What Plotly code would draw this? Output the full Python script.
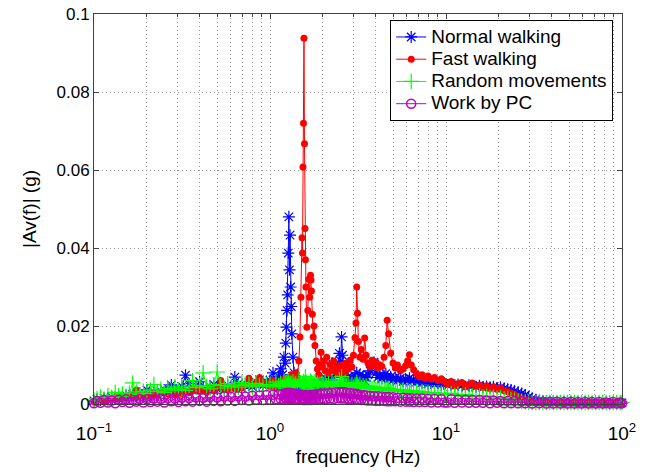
import plotly.graph_objects as go

# ---------------------------------------------------------------------------
# Frequency bins (Hz), split into four bands
# ---------------------------------------------------------------------------
freq_low = [0.100, 0.104, 0.109, 0.114, 0.120, 0.126, 0.132, 0.138, 0.145, 0.152,
            0.159, 0.166, 0.174, 0.182, 0.191, 0.200, 0.209, 0.219, 0.229, 0.240,
            0.251, 0.263, 0.275, 0.288, 0.302, 0.316, 0.331, 0.347, 0.363, 0.380,
            0.398, 0.417, 0.437, 0.457, 0.479, 0.501, 0.525, 0.550, 0.575, 0.603,
            0.631, 0.661, 0.692, 0.724, 0.759, 0.794, 0.832, 0.871, 0.912, 0.955]
freq_step = [1.00, 1.04, 1.08, 1.12, 1.15, 1.18, 1.20, 1.22, 1.23, 1.24,
             1.25, 1.26, 1.27, 1.28, 1.29, 1.30, 1.31, 1.32, 1.33, 1.35,
             1.37, 1.40, 1.43, 1.46, 1.48, 1.50, 1.52, 1.53, 1.54, 1.55,
             1.56, 1.57, 1.58, 1.59, 1.60, 1.62, 1.64, 1.66, 1.68, 1.70,
             1.71, 1.72, 1.74, 1.76, 1.78, 1.80, 1.83, 1.86, 1.89, 1.92,
             1.95, 1.98]
freq_harm = [2.02, 2.06, 2.10, 2.15, 2.20, 2.25, 2.30, 2.36, 2.42, 2.48,
             2.52, 2.55, 2.58, 2.62, 2.67, 2.72, 2.78, 2.85, 2.92, 2.98,
             3.04, 3.08, 3.11, 3.14, 3.18, 3.24, 3.30, 3.38, 3.45, 3.52,
             3.60, 3.70, 3.80, 3.90, 4.00, 4.10, 4.20, 4.32, 4.45, 4.55,
             4.63, 4.72, 4.85, 5.00, 5.15, 5.30, 5.50, 5.70, 5.90, 6.05,
             6.20, 6.35, 6.55, 6.80, 7.05, 7.30, 7.60, 7.90, 8.25, 8.60,
             9.00, 9.40, 9.80]
freq_high = [10.2, 10.7, 11.2, 11.7, 12.3, 12.9, 13.5, 14.1, 14.8, 15.5,
             16.2, 17.0, 17.8, 18.6, 19.5, 20.4, 21.4, 22.4, 23.4, 24.5,
             25.7, 26.9, 28.2, 29.5, 30.9, 32.4, 33.9, 35.5, 37.2, 38.9,
             40.7, 42.7, 44.7, 46.8, 49.0, 51.3, 53.7, 56.2, 58.9, 61.7,
             64.6, 67.6, 70.8, 74.1, 77.6, 81.3, 85.1, 89.1, 93.3, 97.7,
             100.0]

# ---------------------------------------------------------------------------
# |Av(f)| in g for each activity, same four bands
# ---------------------------------------------------------------------------
normal_low = [0.0008, 0.0012, 0.0010, 0.0015, 0.0011, 0.0018, 0.0013, 0.0020, 0.0016, 0.0022,
              0.0017, 0.0025, 0.0019, 0.0028, 0.0021, 0.0036, 0.0024, 0.0030, 0.0022, 0.0033,
              0.0027, 0.0040, 0.0049, 0.0031, 0.0038, 0.0045, 0.0074, 0.0052, 0.0036, 0.0044,
              0.0057, 0.0041, 0.0035, 0.0043, 0.0050, 0.0038, 0.0045, 0.0036, 0.0048, 0.0042,
              0.0069, 0.0052, 0.0040, 0.0047, 0.0055, 0.0044, 0.0050, 0.0062, 0.0048, 0.0058]
normal_step = [0.0060, 0.0080, 0.0055, 0.0070, 0.0090, 0.0075, 0.0120, 0.0105, 0.0156, 0.0197,
               0.0240, 0.0280, 0.0387, 0.0480, 0.0344, 0.0433, 0.0300, 0.0250, 0.0180, 0.0120,
               0.0080, 0.0060, 0.0045, 0.0052, 0.0038, 0.0044, 0.0035, 0.0040, 0.0032, 0.0038,
               0.0030, 0.0036, 0.0033, 0.0040, 0.0034, 0.0042, 0.0036, 0.0045, 0.0038, 0.0048,
               0.0040, 0.0044, 0.0037, 0.0046, 0.0040, 0.0050, 0.0042, 0.0055, 0.0045, 0.0060,
               0.0048, 0.0052]
normal_harm = [0.0055, 0.0065, 0.0050, 0.0072, 0.0060, 0.0105, 0.0068, 0.0080, 0.0095, 0.0130,
               0.0110, 0.0172, 0.0125, 0.0090, 0.0075, 0.0062, 0.0070, 0.0058, 0.0066, 0.0060,
               0.0072, 0.0065, 0.0080, 0.0070, 0.0062, 0.0075, 0.0064, 0.0070, 0.0060, 0.0068,
               0.0075, 0.0085, 0.0095, 0.0107, 0.0080, 0.0068, 0.0074, 0.0066, 0.0072, 0.0078,
               0.0070, 0.0064, 0.0070, 0.0062, 0.0068, 0.0060, 0.0066, 0.0058, 0.0064, 0.0060,
               0.0066, 0.0058, 0.0062, 0.0056, 0.0060, 0.0054, 0.0058, 0.0052, 0.0056, 0.0050,
               0.0054, 0.0049, 0.0053]
normal_high = [0.0048, 0.0052, 0.0045, 0.0050, 0.0047, 0.0043, 0.0048, 0.0046, 0.0044, 0.0047,
               0.0043, 0.0045, 0.0042, 0.0044, 0.0041, 0.0043, 0.0040, 0.0038, 0.0036, 0.0033,
               0.0030, 0.0027, 0.0023, 0.0018, 0.0014, 0.0011, 0.0009, 0.0008, 0.0007, 0.0006,
               0.0006, 0.0005, 0.0006, 0.0005, 0.0005, 0.0004, 0.0005, 0.0004, 0.0004, 0.0005,
               0.0004, 0.0004, 0.0003, 0.0004, 0.0003, 0.0004, 0.0003, 0.0003, 0.0003, 0.0003,
               0.0003]

fast_low = [0.0006, 0.0009, 0.0012, 0.0008, 0.0014, 0.0011, 0.0017, 0.0013, 0.0019, 0.0015,
            0.0022, 0.0018, 0.0036, 0.0020, 0.0024, 0.0019, 0.0027, 0.0022, 0.0025, 0.0030,
            0.0036, 0.0026, 0.0029, 0.0024, 0.0031, 0.0027, 0.0033, 0.0029, 0.0035, 0.0040,
            0.0032, 0.0036, 0.0030, 0.0038, 0.0034, 0.0043, 0.0060, 0.0041, 0.0037, 0.0045,
            0.0039, 0.0047, 0.0042, 0.0050, 0.0066, 0.0048, 0.0053, 0.0067, 0.0051, 0.0056]
fast_step = [0.0045, 0.0060, 0.0040, 0.0055, 0.0048, 0.0062, 0.0050, 0.0065, 0.0045, 0.0058,
             0.0050, 0.0062, 0.0048, 0.0055, 0.0068, 0.0052, 0.0060, 0.0075, 0.0058, 0.0070,
             0.0062, 0.0080, 0.0068, 0.0110, 0.0172, 0.0274, 0.0426, 0.0387, 0.0608, 0.0720,
             0.0938, 0.0667, 0.0450, 0.0370, 0.0300, 0.0197, 0.0240, 0.0320, 0.0274, 0.0330,
             0.0318, 0.0290, 0.0230, 0.0172, 0.0200, 0.0150, 0.0110, 0.0090, 0.0075, 0.0100,
             0.0133, 0.0095]
fast_harm = [0.0110, 0.0085, 0.0120, 0.0078, 0.0102, 0.0088, 0.0110, 0.0082, 0.0095, 0.0090,
             0.0078, 0.0100, 0.0085, 0.0096, 0.0080, 0.0105, 0.0090, 0.0112, 0.0095, 0.0125,
             0.0170, 0.0208, 0.0300, 0.0233, 0.0160, 0.0120, 0.0140, 0.0115, 0.0169, 0.0125,
             0.0105, 0.0095, 0.0112, 0.0100, 0.0108, 0.0092, 0.0100, 0.0096, 0.0120, 0.0150,
             0.0215, 0.0180, 0.0130, 0.0105, 0.0092, 0.0100, 0.0085, 0.0090, 0.0098, 0.0110,
             0.0126, 0.0100, 0.0088, 0.0078, 0.0070, 0.0075, 0.0066, 0.0072, 0.0064, 0.0068,
             0.0060, 0.0065, 0.0058]
fast_high = [0.0050, 0.0058, 0.0046, 0.0052, 0.0055, 0.0044, 0.0050, 0.0054, 0.0045, 0.0049,
             0.0042, 0.0047, 0.0040, 0.0044, 0.0038, 0.0041, 0.0034, 0.0032, 0.0028, 0.0025,
             0.0020, 0.0015, 0.0011, 0.0007, 0.0005, 0.0004, 0.0003, 0.0003, 0.0003, 0.0003,
             0.0003, 0.0003, 0.0003, 0.0003, 0.0003, 0.0003, 0.0003, 0.0003, 0.0003, 0.0003,
             0.0003, 0.0003, 0.0003, 0.0003, 0.0003, 0.0003, 0.0003, 0.0003, 0.0003, 0.0003,
             0.0003]

random_low = [0.0010, 0.0014, 0.0018, 0.0013, 0.0022, 0.0017, 0.0030, 0.0021, 0.0026, 0.0020,
              0.0028, 0.0054, 0.0031, 0.0024, 0.0033, 0.0027, 0.0036, 0.0050, 0.0032, 0.0038,
              0.0029, 0.0040, 0.0034, 0.0044, 0.0036, 0.0041, 0.0035, 0.0046, 0.0060, 0.0042,
              0.0048, 0.0080, 0.0045, 0.0039, 0.0050, 0.0082, 0.0047, 0.0041, 0.0052, 0.0045,
              0.0049, 0.0043, 0.0055, 0.0047, 0.0051, 0.0044, 0.0053, 0.0048, 0.0046, 0.0050]
random_step = [0.0050, 0.0044, 0.0056, 0.0047, 0.0052, 0.0045, 0.0058, 0.0049, 0.0053, 0.0046,
               0.0055, 0.0048, 0.0060, 0.0050, 0.0045, 0.0054, 0.0047, 0.0052, 0.0044, 0.0057,
               0.0049, 0.0053, 0.0046, 0.0062, 0.0050, 0.0055, 0.0047, 0.0052, 0.0045, 0.0058,
               0.0049, 0.0054, 0.0046, 0.0070, 0.0051, 0.0056, 0.0048, 0.0053, 0.0046, 0.0059,
               0.0050, 0.0055, 0.0047, 0.0052, 0.0045, 0.0057, 0.0049, 0.0054, 0.0046, 0.0051,
               0.0048, 0.0053]
random_harm = [0.0050, 0.0056, 0.0047, 0.0053, 0.0045, 0.0058, 0.0049, 0.0054, 0.0046, 0.0062,
               0.0051, 0.0070, 0.0052, 0.0047, 0.0055, 0.0046, 0.0052, 0.0044, 0.0050, 0.0043,
               0.0049, 0.0045, 0.0055, 0.0048, 0.0044, 0.0050, 0.0042, 0.0047, 0.0041, 0.0046,
               0.0040, 0.0045, 0.0039, 0.0044, 0.0038, 0.0043, 0.0037, 0.0042, 0.0036, 0.0041,
               0.0035, 0.0040, 0.0034, 0.0038, 0.0033, 0.0037, 0.0032, 0.0036, 0.0031, 0.0035,
               0.0030, 0.0034, 0.0029, 0.0033, 0.0028, 0.0032, 0.0027, 0.0030, 0.0026, 0.0029,
               0.0025, 0.0028, 0.0024]
random_high = [0.0024, 0.0027, 0.0022, 0.0025, 0.0021, 0.0024, 0.0020, 0.0022, 0.0019, 0.0021,
               0.0018, 0.0020, 0.0017, 0.0018, 0.0015, 0.0016, 0.0013, 0.0014, 0.0011, 0.0010,
               0.0008, 0.0007, 0.0006, 0.0005, 0.0004, 0.0004, 0.0004, 0.0004, 0.0004, 0.0004,
               0.0004, 0.0004, 0.0004, 0.0004, 0.0004, 0.0004, 0.0004, 0.0004, 0.0004, 0.0004,
               0.0004, 0.0004, 0.0004, 0.0004, 0.0004, 0.0004, 0.0004, 0.0004, 0.0004, 0.0004,
               0.0004]

pc_low = [0.0002, 0.0008, 0.0003, 0.0010, 0.0004, 0.0009, 0.0002, 0.0011, 0.0005, 0.0012,
          0.0003, 0.0010, 0.0006, 0.0013, 0.0004, 0.0012, 0.0005, 0.0014, 0.0006, 0.0013,
          0.0004, 0.0015, 0.0007, 0.0014, 0.0005, 0.0016, 0.0007, 0.0015, 0.0006, 0.0017,
          0.0008, 0.0016, 0.0006, 0.0018, 0.0008, 0.0017, 0.0007, 0.0019, 0.0009, 0.0018,
          0.0008, 0.0020, 0.0010, 0.0019, 0.0009, 0.0021, 0.0011, 0.0022, 0.0010, 0.0023]
pc_step = [0.0011, 0.0024, 0.0012, 0.0025, 0.0013, 0.0026, 0.0012, 0.0027, 0.0014, 0.0028,
           0.0013, 0.0029, 0.0015, 0.0028, 0.0014, 0.0029, 0.0013, 0.0028, 0.0014, 0.0027,
           0.0012, 0.0026, 0.0013, 0.0025, 0.0011, 0.0024, 0.0012, 0.0023, 0.0010, 0.0022,
           0.0011, 0.0023, 0.0010, 0.0022, 0.0011, 0.0021, 0.0010, 0.0022, 0.0011, 0.0023,
           0.0010, 0.0022, 0.0011, 0.0023, 0.0012, 0.0024, 0.0011, 0.0025, 0.0012, 0.0026,
           0.0013, 0.0027]
pc_harm = [0.0012, 0.0027, 0.0013, 0.0028, 0.0014, 0.0029, 0.0013, 0.0030, 0.0015, 0.0031,
           0.0014, 0.0030, 0.0015, 0.0031, 0.0014, 0.0029, 0.0013, 0.0028, 0.0012, 0.0027,
           0.0012, 0.0026, 0.0011, 0.0025, 0.0011, 0.0024, 0.0010, 0.0023, 0.0010, 0.0022,
           0.0009, 0.0021, 0.0009, 0.0020, 0.0008, 0.0020, 0.0008, 0.0019, 0.0008, 0.0018,
           0.0007, 0.0018, 0.0007, 0.0017, 0.0007, 0.0016, 0.0006, 0.0016, 0.0006, 0.0015,
           0.0006, 0.0015, 0.0005, 0.0014, 0.0005, 0.0014, 0.0005, 0.0013, 0.0004, 0.0013,
           0.0004, 0.0012, 0.0004]
pc_high = [0.0004, 0.0012, 0.0003, 0.0011, 0.0004, 0.0011, 0.0003, 0.0010, 0.0003, 0.0010,
           0.0003, 0.0009, 0.0002, 0.0009, 0.0003, 0.0008, 0.0002, 0.0008, 0.0002, 0.0008,
           0.0002, 0.0007, 0.0002, 0.0007, 0.0001, 0.0007, 0.0002, 0.0006, 0.0001, 0.0006,
           0.0001, 0.0006, 0.0001, 0.0005, 0.0001, 0.0006, 0.0001, 0.0005, 0.0001, 0.0005,
           0.0001, 0.0005, 0.0001, 0.0005, 0.0001, 0.0004, 0.0001, 0.0005, 0.0001, 0.0004,
           0.0002]

series_names = ["Normal walking", "Fast walking", "Random movements", "Work by PC"]

freq = freq_low + freq_step + freq_harm + freq_high
amplitudes = [
    normal_low + normal_step + normal_harm + normal_high,
    fast_low + fast_step + fast_harm + fast_high,
    random_low + random_step + random_harm + random_high,
    pc_low + pc_step + pc_harm + pc_high,
]
for a in amplitudes:
    assert len(a) == len(freq)

# MATLAB-like line/marker styles: '*-b', '.-r', '+-g', 'o-m'
styles = [
    dict(color="#0000ff", symbol="asterisk-open", size=10, lw=1.2),
    dict(color="#ff0000", symbol="circle", size=7, lw=0),
    dict(color="#00ff00", symbol="cross-thin-open", size=11, lw=1.2),
    dict(color="#bf00bf", symbol="circle-open", size=9, lw=1.5),
]

# legend rows are spaced from the legend font size; the label text itself
# is drawn a little larger so the box keeps a compact row pitch
LEGEND_TEXT_PX = 19

fig = go.Figure()
for name, amp, st in zip(series_names, amplitudes, styles):
    fig.add_trace(go.Scatter(
        x=freq, y=amp, mode="lines+markers",
        name=f'<span style="font-size:{LEGEND_TEXT_PX}px">{name}</span>',
        line=dict(color=st["color"], width=1),
        marker=dict(symbol=st["symbol"], size=st["size"], color=st["color"],
                    line=dict(color=st["color"], width=st["lw"])),
        cliponaxis=False,
    ))

# log-axis tick positions: decades labelled, 2..9 as minor grid
decades = [0.1, 1, 10, 100]
decade_labels = ["10<sup>−1</sup>", "10<sup>0</sup>", "10<sup>1</sup>", "10<sup>2</sup>"]
minor_vals = [m * d for d in [0.1, 1, 10] for m in range(2, 10)]
y_ticks = [0, 0.02, 0.04, 0.06, 0.08, 0.1]
y_labels = ["0", "0.02", "0.04", "0.06", "0.08", "0.1"]

axis_color = "#404040"
grid_color = "#9a9a9a"
grid_dash = "1px,3px"
font_family = "Liberation Sans, Arial, sans-serif"

fig.update_layout(
    width=646, height=473,
    margin=dict(l=94, r=24, t=14, b=69),
    paper_bgcolor="white", plot_bgcolor="white",
    font=dict(family=font_family, size=17, color="black"),
    showlegend=True,
    legend=dict(
        x=0.561, y=0.985, xanchor="left", yanchor="top",
        bgcolor="white", bordercolor="black", borderwidth=1,
        font=dict(size=14.8, family=font_family),
        tracegroupgap=0, itemwidth=30,
    ),
    xaxis=dict(
        type="log", range=[-1, 2], automargin=False,
        tickmode="array", tickvals=decades, ticktext=decade_labels,
        ticks="inside", ticklen=5, tickcolor=axis_color,
        showline=True, linecolor=axis_color, linewidth=1, mirror="ticks",
        showgrid=True, gridcolor=grid_color, griddash=grid_dash, gridwidth=1,
        minor=dict(tickmode="array", tickvals=minor_vals, ticks="inside",
                   ticklen=3, tickcolor=axis_color, showgrid=True,
                   gridcolor=grid_color, griddash=grid_dash, gridwidth=1),
        zeroline=False,
        ticklabelstandoff=12,
        title=dict(text="frequency (Hz)", font=dict(size=19), standoff=6),
        tickfont=dict(size=19),
    ),
    yaxis=dict(
        range=[0, 0.1], automargin=False,
        tickmode="array", tickvals=y_ticks, ticktext=y_labels,
        ticks="inside", ticklen=5, tickcolor=axis_color,
        showline=True, linecolor=axis_color, linewidth=1, mirror="ticks",
        showgrid=True, gridcolor=grid_color, griddash=grid_dash, gridwidth=1,
        zeroline=False,
        title=dict(text="|Av(f)| (g)", font=dict(size=19), standoff=14),
        tickfont=dict(size=17),
    ),
)

fig.write_html("out.html")
